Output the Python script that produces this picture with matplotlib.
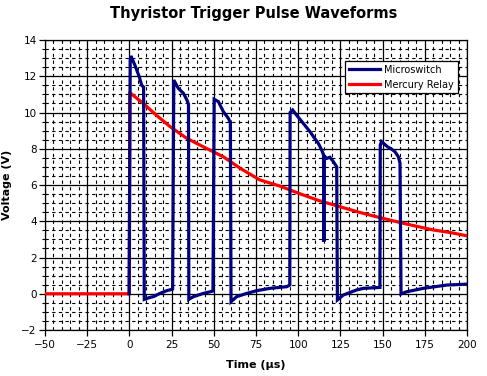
import matplotlib
matplotlib.use('Agg')
import matplotlib.pyplot as plt
from matplotlib.ticker import MultipleLocator

# Microswitch trace (time in us, voltage in V)
micro_t = [-0.2, 0.5, 0.9, 3.3, 5.8, 7.3, 8.4, 8.8, 12.2, 14.2, 18.1, 22.1, 25.0, 25.6,
           26.3, 29.0, 32.0, 34.0, 35.0, 35.2, 37.9, 43.8, 47.8, 49.5,
           50.2, 52.7, 55.7, 58.6, 59.8, 60.2, 63.5, 69.5, 75.4, 83.3, 93.2, 95.0, 95.2,
           96.7, 99.0, 103.0, 107.0, 109.0, 111.9, 113.9, 115.0, 115.2, 115.4, 116.9,
           118.8, 120.8, 122.8, 123.2, 126.7, 134.6, 138.6, 148.4, 148.6,
           149.3, 150.5, 153.0, 155.0, 157.3, 159.3, 160.3, 160.9, 164.2, 174.1, 188.0, 199.8]
micro_v = [0.0, 12.9, 13.12, 12.6, 11.98, 11.5, 11.4, -0.31, -0.2, -0.16, 0.02, 0.17, 0.24, 0.26,
           11.79, 11.33, 11.06, 10.7, 10.45, -0.31, -0.16, 0.02, 0.11, 0.15,
           10.73, 10.6, 10.04, 9.68, 9.45, -0.44, -0.16, 0.02, 0.17, 0.3, 0.39, 0.48, 10.0,
           10.14, 9.86, 9.4, 8.94, 8.67, 8.3, 7.93, 7.66, 2.87, 7.6, 7.47,
           7.53, 7.29, 7.0, -0.34, -0.07, 0.21, 0.30, 0.35, 8.2,
           8.4, 8.3, 8.1, 8.0, 7.84, 7.56, 7.2, -0.01, 0.11, 0.3, 0.48, 0.53]

# Mercury relay trace
relay_t = [-50, 0.0, 0.2, 8.2, 16.0, 24.1, 33.9, 45.0, 55.6, 66.0, 77.3, 89.2, 100.0,
           112.0, 124.7, 136.0, 148.4, 164.0, 180.0, 190.0, 199.8]
relay_v = [0.0, 0.0, 11.1, 10.5, 9.85, 9.22, 8.58, 8.05, 7.56, 6.9, 6.28, 5.94, 5.55,
           5.15, 4.8, 4.5, 4.2, 3.85, 3.52, 3.38, 3.2]


def main():
    fig = plt.figure(figsize=(4.87, 3.76), dpi=100)
    ax = fig.add_axes([0.0924, 0.1223, 0.8666, 0.7713])

    ax.plot(micro_t, micro_v, color='#000080', linewidth=2.3, label='Microswitch',
            solid_joinstyle='miter', zorder=4)
    ax.plot(relay_t, relay_v, color='#FF0000', linewidth=2.3, label='Mercury Relay', zorder=3)

    ax.set_xlim(-50, 200)
    ax.set_ylim(-2, 14)
    ax.xaxis.set_major_locator(MultipleLocator(25))
    ax.xaxis.set_minor_locator(MultipleLocator(5))
    ax.yaxis.set_major_locator(MultipleLocator(2))
    ax.yaxis.set_minor_locator(MultipleLocator(0.5))

    ax.grid(True, which='major', color='black', linewidth=0.9, linestyle='-')
    ax.grid(True, which='minor', color='black', linewidth=0.8, linestyle=(0, (3, 3)))
    ax.set_axisbelow(True)

    ax.tick_params(axis='both', which='major', labelsize=7.5, length=4, width=0.9,
                   colors='black')
    ax.tick_params(axis='x', which='major', pad=3)
    ax.tick_params(axis='y', which='major', pad=2)
    ax.tick_params(axis='x', which='minor', length=0)
    ax.tick_params(axis='y', which='minor', length=2.5, width=0.8)
    for sp in ax.spines.values():
        sp.set_color('black')
        sp.set_linewidth(0.9)

    ax.set_xlabel('Time (µs)', fontsize=8, fontweight='bold')
    ax.set_ylabel('Voltage (V)', fontsize=8, fontweight='bold')
    ax.xaxis.set_label_coords(0.5, -0.105)
    ax.yaxis.set_label_coords(-0.079, 0.5)
    fig.suptitle('Thyristor Trigger Pulse Waveforms', x=0.52, y=0.985,
                 fontsize=10.5, fontweight='bold')

    leg = ax.legend(loc='upper right', bbox_to_anchor=(0.99, 0.945), fontsize=7,
                    frameon=True, fancybox=False, framealpha=1, edgecolor='black',
                    handlelength=3.2, borderpad=0.4, labelspacing=0.5, handletextpad=0.4)
    leg.get_frame().set_linewidth(0.9)

    fig.savefig('out.png', dpi=100)
    plt.close(fig)


if __name__ == "__main__":
    main()
